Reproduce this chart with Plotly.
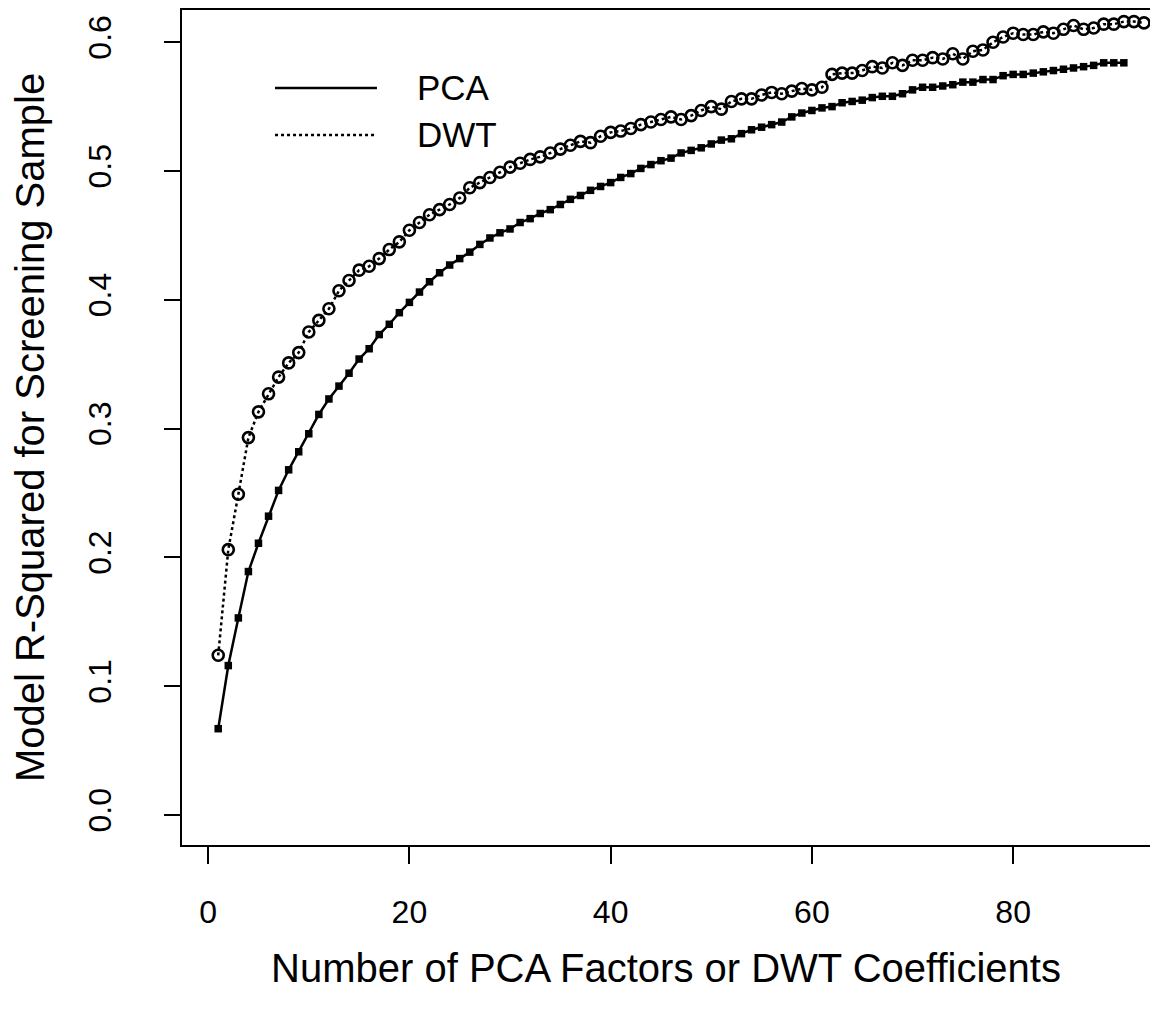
import plotly.graph_objects as go

# Number of PCA factors / DWT coefficients
pca_x = list(range(1, 92))
dwt_x = list(range(1, 94))

# Model R-squared (PCA)
pca_y = [0.067, 0.116, 0.153, 0.189, 0.211, 0.232, 0.252, 0.268, 0.282, 0.296,
         0.311, 0.323, 0.333, 0.343, 0.354, 0.362, 0.373, 0.381, 0.390, 0.398,
         0.406, 0.414, 0.421, 0.427, 0.432, 0.437, 0.443, 0.448, 0.452, 0.455,
         0.460, 0.463, 0.467, 0.470, 0.474, 0.478, 0.481, 0.485, 0.488, 0.491,
         0.495, 0.498, 0.502, 0.505, 0.508, 0.510, 0.514, 0.516, 0.518, 0.521,
         0.524, 0.525, 0.529, 0.532, 0.534, 0.536, 0.538, 0.542, 0.545, 0.547,
         0.549, 0.550, 0.553, 0.554, 0.555, 0.557, 0.558, 0.558, 0.560, 0.563,
         0.565, 0.565, 0.566, 0.567, 0.569, 0.569, 0.571, 0.571, 0.574, 0.575,
         0.575, 0.576, 0.577, 0.578, 0.579, 0.580, 0.581, 0.582, 0.584, 0.584,
         0.584]

# Model R-squared (DWT)
dwt_y = [0.124, 0.206, 0.249, 0.293, 0.313, 0.327, 0.340, 0.351, 0.359, 0.375,
         0.384, 0.393, 0.407, 0.415, 0.423, 0.426, 0.432, 0.439, 0.445, 0.454,
         0.460, 0.466, 0.470, 0.474, 0.479, 0.487, 0.491, 0.495, 0.499, 0.503,
         0.506, 0.509, 0.511, 0.514, 0.517, 0.520, 0.523, 0.522, 0.527, 0.530,
         0.531, 0.533, 0.536, 0.538, 0.540, 0.542, 0.540, 0.543, 0.547, 0.550,
         0.548, 0.554, 0.556, 0.556, 0.559, 0.561, 0.560, 0.562, 0.564, 0.563,
         0.565, 0.575, 0.576, 0.576, 0.578, 0.581, 0.580, 0.584, 0.582, 0.586,
         0.586, 0.588, 0.587, 0.591, 0.587, 0.593, 0.594, 0.600, 0.604, 0.607,
         0.606, 0.606, 0.608, 0.607, 0.610, 0.613, 0.610, 0.611, 0.614, 0.614,
         0.616, 0.616, 0.615]

x_ticks = [0, 20, 40, 60, 80]
y_ticks = [0.0, 0.1, 0.2, 0.3, 0.4, 0.5, 0.6]
y_tick_text = ["0.0", "0.1", "0.2", "0.3", "0.4", "0.5", "0.6"]

series_names = ["PCA", "DWT"]
x_title = "Number of PCA Factors or DWT Coefficients"
y_title = "Model R-Squared for Screening Sample"

FONT = "Liberation Sans, Arial, sans-serif"
TICKFONT = "Liberation Sans Narrow, Liberation Sans, Arial, sans-serif"

fig = go.Figure()
fig.add_trace(go.Scatter(
    x=pca_x, y=pca_y, mode="lines+markers", name=series_names[0],
    line=dict(color="black", width=2.5),
    marker=dict(symbol="square", size=7.5, color="black"),
    showlegend=False,
))
fig.add_trace(go.Scatter(
    x=dwt_x, y=dwt_y, mode="lines+markers", name=series_names[1],
    line=dict(color="black", width=2.5, dash="3px,3px"),
    marker=dict(symbol="circle-open", size=11, color="black",
                line=dict(width=2.6, color="black")),
    showlegend=False,
))

# hand-drawn style legend (line samples + labels) inside the plot
legend_rows = [(0.9066, "solid"), (0.8503, "3px,3px")]
for (py, dash), name in zip(legend_rows, series_names):
    fig.add_shape(type="line", xref="paper", yref="paper",
                  x0=0.0961, x1=0.2014, y0=py, y1=py,
                  line=dict(color="black", width=2.5, dash=dash))
    fig.add_annotation(xref="paper", yref="paper", x=0.2407, y=py,
                       text=name, showarrow=False, xanchor="left",
                       yanchor="middle",
                       font=dict(family=FONT, size=35, color="black"))

fig.update_layout(
    width=1150, height=1017,
    margin=dict(l=174, r=8, t=2, b=180),
    paper_bgcolor="white", plot_bgcolor="white",
    font=dict(family=FONT, color="black"),
    showlegend=False,
)
fig.update_xaxes(
    range=[-2.6, 93.6], tickvals=x_ticks, ticktext=[str(v) for v in x_ticks],
    showgrid=False, zeroline=False,
    showline=True, linecolor="black", linewidth=2, mirror=True,
    ticks="outside", ticklen=17, tickwidth=2, tickcolor="black",
    tickfont=dict(family=TICKFONT, size=32, color="black"),
    ticklabelstandoff=21,
    title=dict(text=x_title, font=dict(family=FONT, size=40, color="black"),
               standoff=25),
    automargin=False,
)
fig.update_yaxes(
    range=[-0.0233, 0.625], tickvals=y_ticks, ticktext=y_tick_text,
    tickangle=-90,
    showgrid=False, zeroline=False,
    showline=True, linecolor="black", linewidth=2, mirror=True,
    ticks="outside", ticklen=16, tickwidth=2, tickcolor="black",
    tickfont=dict(family=TICKFONT, size=32, color="black"),
    ticklabelstandoff=40,
    title=dict(text=y_title, font=dict(family=FONT, size=40, color="black"),
               standoff=28),
    automargin=False,
)

fig.write_html("out.html")
